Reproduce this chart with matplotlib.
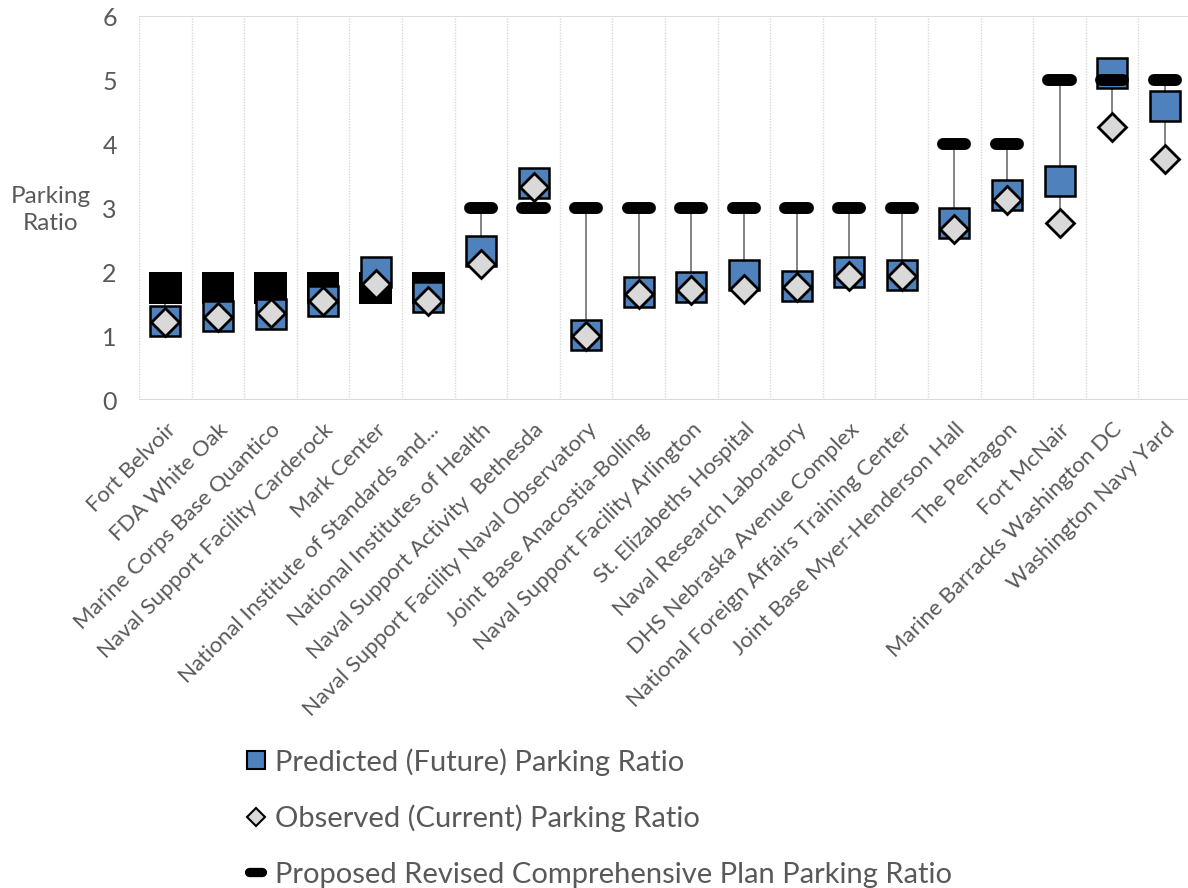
import matplotlib

matplotlib.use("Agg")
import matplotlib.pyplot as plt
from matplotlib.lines import Line2D

plt.rcParams["font.family"] = ["Lato", "DejaVu Sans"]

categories = [
    "Fort Belvoir",
    "FDA White Oak",
    "Marine Corps Base Quantico",
    "Naval Support Facility Carderock",
    "Mark Center",
    "National Institute of Standards and...",
    "National Institutes of Health",
    "Naval Support Activity  Bethesda",
    "Naval Support Facility Naval Observatory",
    "Joint Base Anacostia-Bolling",
    "Naval Support Facility Arlington",
    "St. Elizabeths Hospital",
    "Naval Research Laboratory",
    "DHS Nebraska Avenue Complex",
    "National Foreign Affairs Training Center",
    "Joint Base Myer-Henderson Hall",
    "The Pentagon",
    "Fort McNair",
    "Marine Barracks Washington DC",
    "Washington Navy Yard",
]
predicted = [1.24, 1.32, 1.35, 1.54, 2.00, 1.61, 2.33, 3.39, 1.02, 1.68,
             1.77, 1.95, 1.78, 2.00, 1.95, 2.77, 3.20, 3.42, 5.11, 4.59]
observed = [1.22, 1.30, 1.36, 1.54, 1.81, 1.55, 2.13, 3.33, 1.00, 1.66,
            1.72, 1.74, 1.76, 1.93, 1.94, 2.67, 3.12, 2.76, 4.26, 3.76]
# proposed plan ratio: a range for the first six sites, a single value for the rest
proposed_low = [1.5, 1.5, 1.5, 1.5, 1.5, 1.5, 3, 3, 3, 3,
                3, 3, 3, 3, 3, 4, 4, 5, 5, 5]
proposed_high = [2, 2, 2, 2, 2, 2, 3, 3, 3, 3,
                 3, 3, 3, 3, 3, 4, 4, 5, 5, 5]

blue = "#4F81BD"
diamond_gray = "#D9D9D9"
text_gray = "#595959"
grid_gray = "#D9D9D9"

fig = plt.figure(figsize=(11.88, 8.88), dpi=100)
ax = fig.add_axes([139 / 1188, 1 - 400 / 888, 1052 / 1188, 384 / 888])

x = list(range(len(categories)))

# high-low lines
lows = [min(a, b, c) for a, b, c in zip(predicted, observed, proposed_low)]
highs = [max(a, b, c) for a, b, c in zip(predicted, observed, proposed_high)]
ax.vlines(x, lows, highs, color="#6E6E6E", lw=1.2, zorder=1)

# proposed ranges as black boxes, single values as rounded dashes
rng = [i for i in x if proposed_high[i] > proposed_low[i]]
ax.bar(rng, [proposed_high[i] - proposed_low[i] for i in rng],
       bottom=[proposed_low[i] for i in rng], width=0.62, color="black", zorder=2)
pts = [i for i in x if proposed_high[i] == proposed_low[i]]
ax.hlines([proposed_high[i] for i in pts], [i - 0.21 for i in pts], [i + 0.21 for i in pts],
          color="black", lw=8.6, capstyle="round", zorder=4)

ax.plot(x, predicted, ls="none", marker="s", ms=22, mfc=blue, mec="black", mew=1.8, zorder=3)
ax.plot(x, observed, ls="none", marker="D", ms=14.5, mfc=diamond_gray, mec="black", mew=2, zorder=5)

ax.set_xlim(-0.5, len(categories) - 0.5)
ax.set_ylim(0, 6)
ax.set_yticks(range(7))
ax.tick_params(axis="y", length=0, pad=16, labelsize=18, labelcolor=text_gray)
ax.set_xticks(x)
ax.set_xticklabels(categories, rotation=45, ha="right", rotation_mode="anchor",
                   fontsize=16, color=text_gray)
ax.tick_params(axis="x", length=0, pad=14)

# category separators
for b in range(len(categories)):
    ax.axvline(b - 0.5, color=grid_gray, lw=1, ls=(0, (1, 1)), zorder=0)
ax.axhline(6, color=grid_gray, lw=1.3, zorder=0)
for s in ax.spines.values():
    s.set_visible(False)
ax.axhline(0, color=grid_gray, lw=1.5, zorder=0)

fig.text(51 / 1188, 1 - 210 / 888, "Parking\nRatio", ha="center", va="center",
         fontsize=17.5, color=text_gray, linespacing=1.4)

handles = [
    Line2D([], [], ls="none", marker="s", ms=12.5, mfc=blue, mec="black", mew=1.5),
    Line2D([], [], ls="none", marker="D", ms=9, mfc=diamond_gray, mec="black", mew=1.5),
    Line2D([], [], color="black", lw=6.7, solid_capstyle="round"),
]
labels = [
    "Predicted (Future) Parking Ratio",
    "Observed (Current) Parking Ratio",
    "Proposed Revised Comprehensive Plan Parking Ratio",
]
fig.legend(handles, labels, loc="upper left", bbox_to_anchor=(249 / 1188, 1 - 748 / 888),
           frameon=False, fontsize=21, labelcolor=text_gray, handlelength=0.45,
           handletextpad=0.45, labelspacing=1.0, borderpad=0, borderaxespad=0)

fig.savefig("out.png", dpi=100)
